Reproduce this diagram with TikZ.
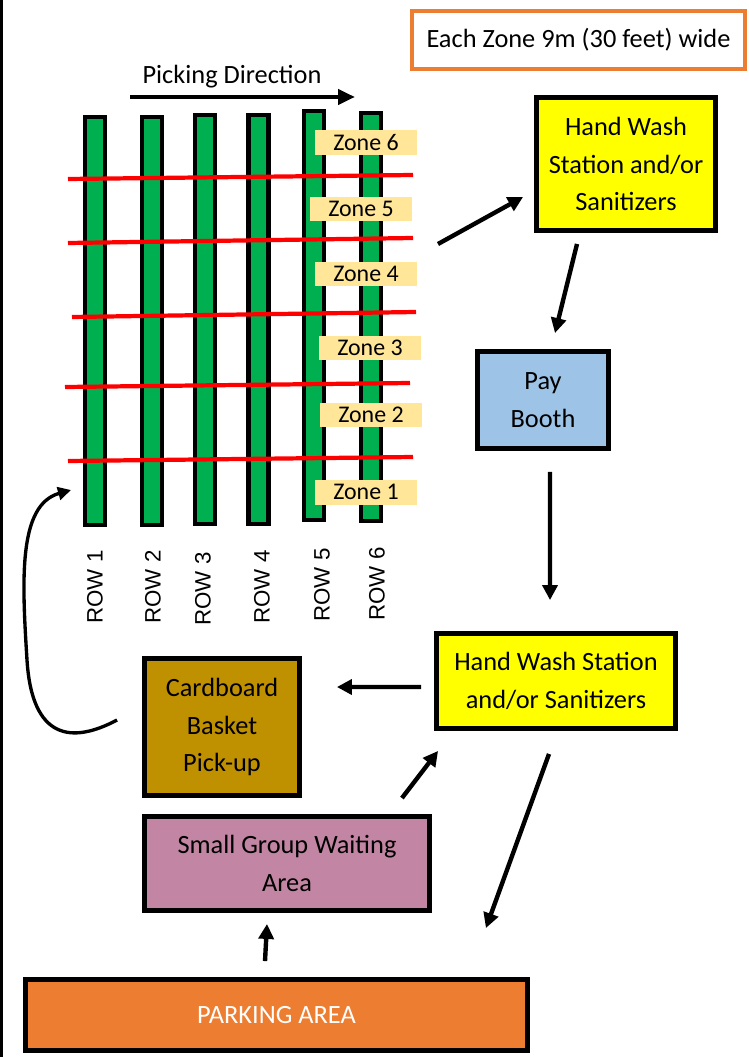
\documentclass[tikz,border=0pt]{standalone}
\usepackage{fontspec}
\setmainfont{Carlito}
\newfontfamily\rowfont{Liberation Sans}
\usetikzlibrary{arrows.meta}
\definecolor{bargreen}{HTML}{00B050}
\definecolor{zonefill}{HTML}{FFE699}
\definecolor{washyellow}{HTML}{FFFF00}
\definecolor{payblue}{HTML}{9DC3E6}
\definecolor{cardbrown}{HTML}{BF9000}
\definecolor{waitpink}{HTML}{C285A3}
\definecolor{parkorange}{HTML}{ED7D31}
\begin{document}
\begin{tikzpicture}[x=0.02cm,y=-0.02cm,line join=miter,
  box/.style={draw=black,line width=2.8pt,align=center,inner sep=0pt,font=\fontsize{15}{21.5}\selectfont},
  bar/.style={draw=black,fill=bargreen,line width=2.3pt,minimum width=0.4cm,minimum height=8.16cm,inner sep=0pt},
  zonelbl/.style={fill=zonefill,minimum width=2.04cm,minimum height=0.5cm,inner sep=0pt,font=\fontsize{13.6}{15}\selectfont},
  rowlbl/.style={rotate=90,inner sep=0pt,font={\rowfont\fontsize{12.7}{15}\selectfont}},
  cut/.style={red,line width=2.4pt},
  flow/.style={line width=2.5pt,-{Triangle[length=0.3cm,width=0.3cm]}},
  loopback/.style={line width=1.9pt,-{Triangle[length=0.26cm,width=0.26cm]}}]
  \useasboundingbox (0,0) rectangle (749,1057);
  \draw[line width=1.7pt] (1.5,0) -- (1.5,1057);
  % zone width note
  \node[draw=parkorange,line width=2pt,minimum width=6.66cm,minimum height=1.16cm,inner sep=0pt,font=\fontsize{15}{18}\selectfont] (note) at (578.5,40) {Each Zone 9m (30 feet) wide};
  % picking direction
  \node[font=\fontsize{15}{18}\selectfont] (pick) at (232,77) {Picking Direction};
  \coordinate (pickstart) at (130,97);
  \coordinate (pickend) at (355,97);
  \draw[line width=2.6pt,-{Triangle[length=0.34cm,width=0.3cm]}] (pickstart) -- (pickend);
  % rows
  \node[bar] (bar1) at (95,321) {};
  \node[bar] (bar2) at (152,321) {};
  \node[bar,minimum height=8.18cm] (bar3) at (205,319.5) {};
  \node[bar,minimum height=8.18cm] (bar4) at (258.5,319.5) {};
  \node[bar,minimum height=8.18cm] (bar5) at (314,315.5) {};
  \node[bar] (bar6) at (371,317) {};
  \node[rowlbl] (row1) at (95,587) {ROW 1};
  \node[rowlbl] (row2) at (153,587) {ROW 2};
  \node[rowlbl] (row3) at (203,589) {ROW 3};
  \node[rowlbl] (row4) at (262,587) {ROW 4};
  \node[rowlbl] (row5) at (322,585) {ROW 5};
  \node[rowlbl] (row6) at (377,584) {ROW 6};
  % zone borders
  \draw[cut] (68,179) -- (413,175);
  \draw[cut] (68,243) -- (413,238);
  \draw[cut] (72,317) -- (416,312);
  \draw[cut] (65,387) -- (410,383);
  \draw[cut] (68,461) -- (413,457);
  \node[zonelbl] (zone6) at (366,142.5) {Zone 6};
  \node[zonelbl] (zone5) at (361,209) {Zone 5};
  \node[zonelbl] (zone4) at (366,274) {Zone 4};
  \node[zonelbl] (zone3) at (370,348) {Zone 3};
  \node[zonelbl] (zone2) at (371,415) {Zone 2};
  \node[zonelbl] (zone1) at (366,492) {Zone 1};
  % stations
  \node[box,fill=washyellow,minimum width=3.58cm,minimum height=2.66cm] (wash1) at (626,164) {Hand Wash\\Station and/or\\Sanitizers};
  \node[box,fill=payblue,minimum width=2.62cm,minimum height=1.94cm] (pay) at (543,400) {Pay\\Booth};
  \node[box,fill=washyellow,minimum width=4.78cm,minimum height=1.9cm] (wash2) at (556,681) {Hand Wash Station\\and/or Sanitizers};
  \node[box,fill=cardbrown,minimum width=3.1cm,minimum height=2.74cm] (card) at (222,727) {Cardboard\\Basket\\Pick-up};
  \node[box,fill=waitpink,minimum width=5.7cm,minimum height=1.88cm] (wait) at (287,863.5) {Small Group Waiting\\Area};
  \node[box,fill=parkorange,text=white,minimum width=10.04cm,minimum height=1.42cm] (park) at (276.5,1015) {PARKING AREA};
  % flow
  \coordinate (fieldexit) at (438,244);
  \draw[flow] (fieldexit) -- ([xshift=-0.22cm,yshift=-0.66cm]wash1.west);
  \draw[flow] ([xshift=-0.98cm,yshift=-0.22cm]wash1.south) -- ([xshift=0.24cm,yshift=0.32cm]pay.north);
  \draw[flow] ([xshift=0.14cm,yshift=-0.42cm]pay.south) -- ([xshift=-0.12cm,yshift=0.62cm]wash2.north);
  \draw[flow] ([xshift=-0.26cm,yshift=-0.12cm]wash2.west) -- ([xshift=0.7cm,yshift=0.8cm]card.east);
  \draw[flow] ([xshift=-0.6cm,yshift=0.32cm]wait.north east) -- ([xshift=0.08cm,yshift=-0.4cm]wash2.south west);
  \draw[flow] ([xshift=-0.14cm,yshift=-0.46cm]wash2.south) -- ([xshift=-0.88cm,yshift=0.98cm]park.north east);
  \draw[flow] ([xshift=-0.23cm,yshift=0.32cm]park.north) -- ([xshift=-0.4cm,yshift=-0.22cm]wait.south);
  \draw[loopback] ([xshift=-0.5cm,yshift=0.14cm]card.west) .. controls (72,744) and (32,740) .. (27,660)
    .. controls (22,580) and (18,505) .. ([xshift=-0.24cm,yshift=0.74cm]bar1.south west);
\end{tikzpicture}
\end{document}
